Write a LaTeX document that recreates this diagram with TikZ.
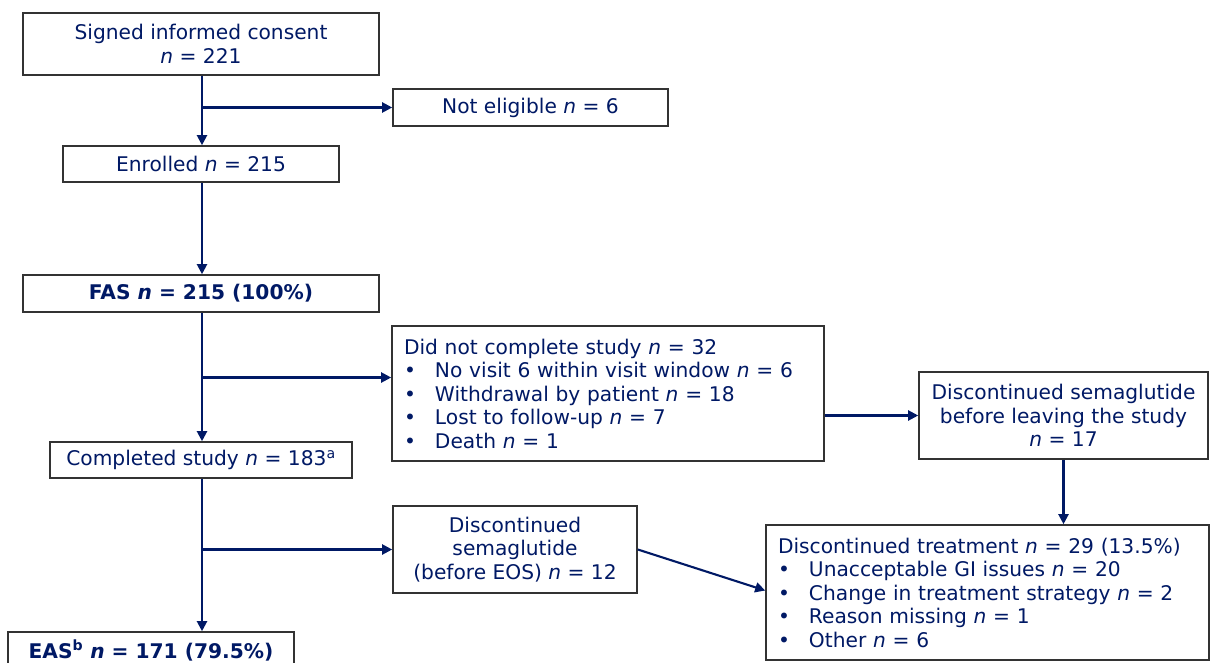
\documentclass[tikz,border=0pt]{standalone}
\usepackage{fontspec}
\setmainfont{DejaVu Sans}
\usepackage{tikz}
\usetikzlibrary{arrows.meta}
\definecolor{nnblue}{HTML}{001965}
\definecolor{boxgray}{HTML}{333333}
\tikzstyle{flowbox} = [draw=boxgray, line width=1.6pt, fill=white,
    rectangle, text=nnblue, inner xsep=3pt, inner ysep=2pt, align=center,
    font=\fontsize{20.2}{23.5}\selectfont]
\tikzstyle{listbox} = [flowbox, align=left, inner xsep=12pt]
\tikzstyle{flowarrow} = [draw=nnblue, line width=2.1pt,
    -{Triangle[length=10pt, width=10pt]}]
\newcommand{\nn}{\textit{n}}
\newcommand{\bul}{\makebox[31pt][l]{\textbullet}}

\begin{document}
\begin{tikzpicture}[x=1pt, y=-1pt]
    \useasboundingbox (0,0) rectangle (1210,663);
    \coordinate (spine) at (202,0);
    % left column
    \node [flowbox, minimum width=356pt, minimum height=62pt] (consent) at (201,44)
        {Signed informed consent\\ \nn{} = 221};
    \node [flowbox, minimum width=276pt, minimum height=36pt] (enrolled) at (201,164)
        {Enrolled \nn{} = 215};
    \node [flowbox, minimum width=356pt, minimum height=37pt] (fas) at (201,293.5)
        {\textbf{FAS \nn{} = 215 (100\%)}};
    \node [flowbox, minimum width=302pt, minimum height=36pt] (completed) at (201,460)
        {Completed study \nn{} = 183\textsuperscript{a}};
    \node [flowbox, minimum width=286pt, minimum height=37pt] (eas) at (151,650.5)
        {\textbf{EAS\textsuperscript{b} \nn{} = 171 (79.5\%)}};
    % side boxes
    \node [flowbox, minimum width=275pt, minimum height=37pt] (noteligible) at (530.5,107.5)
        {Not eligible \nn{} = 6};
    \node [listbox, text width=408pt, minimum height=135pt] (notcomplete) at (608,393.5)
        {Did not complete study \nn{} = 32\\
         \bul No visit 6 within visit window \nn{} = 6\\
         \bul Withdrawal by patient \nn{} = 18\\
         \bul Lost to follow-up \nn{} = 7\\
         \bul Death \nn{} = 1};
    \node [flowbox, minimum width=289pt, minimum height=87pt] (leftsema) at (1063.5,415.5)
        {Discontinued semaglutide\\ before leaving the study\\ \nn{} = 17};
    \node [flowbox, minimum width=244pt, minimum height=87pt] (eossema) at (515,549.5)
        {Discontinued\\ semaglutide\\ (before EOS) \nn{} = 12};
    \node [listbox, text width=419pt, minimum height=135pt] (disctreat) at (987.5,592.5)
        {Discontinued treatment \nn{} = 29 (13.5\%)\\
         \bul Unacceptable GI issues \nn{} = 20\\
         \bul Change in treatment strategy \nn{} = 2\\
         \bul Reason missing \nn{} = 1\\
         \bul Other \nn{} = 6};

    \draw [flowarrow] (consent.south -| spine) -- (enrolled.north -| spine);
    \draw [flowarrow] (noteligible.west -| spine) -- (noteligible.west);
    \draw [flowarrow] (enrolled.south -| spine) -- (fas.north -| spine);
    \draw [flowarrow] (fas.south -| spine) -- (completed.north -| spine);
    \draw [flowarrow] ([yshift=16pt]notcomplete.west -| spine) -- ([yshift=16pt]notcomplete.west);
    \draw [flowarrow] (completed.south -| spine) -- (eas.north -| spine);
    \draw [flowarrow] (eossema.west -| spine) -- (eossema.west);
    \draw [flowarrow] (notcomplete.east |- leftsema.west) -- (leftsema.west);
    \draw [flowarrow] (leftsema.south) -- (leftsema.south |- disctreat.north);
    \draw [flowarrow] (eossema.east) -- ([yshift=2pt]disctreat.west);
\end{tikzpicture}
\end{document}
